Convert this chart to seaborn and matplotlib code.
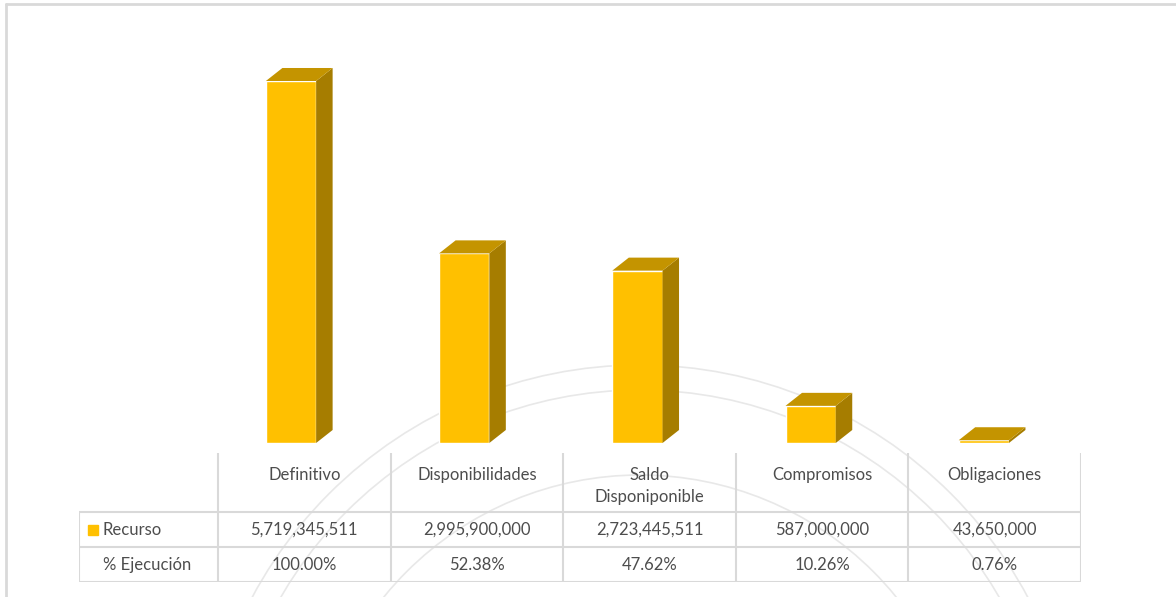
import numpy as np
import pandas as pd
import matplotlib
matplotlib.use('Agg')
import matplotlib.pyplot as plt
import seaborn as sns
from matplotlib.patches import Polygon, Circle

# datos
categorias = ['Definitivo', 'Disponibilidades', 'Saldo\nDisponiponible', 'Compromisos', 'Obligaciones']
recurso = [5719345511, 2995900000, 2723445511, 587000000, 43650000]
ejecucion = [100.00, 52.38, 47.62, 10.26, 0.76]
serie = 'Recurso'
fila_pct = '% Ejecución'

df = pd.DataFrame({'categoria': categorias, 'recurso': recurso})

sns.set_style('white')
plt.rcParams['font.family'] = ['Lato', 'DejaVu Sans']

W, H = 1176, 597
fig = plt.figure(figsize=(W / 100, H / 100), dpi=100)
fig.set_facecolor('white')

GRID = '#D9D9D9'
TXT = '#4D4D4D'
FRONT = '#FFC000'
TOP = '#C49400'
SIDE = '#A67D00'


def px_box(x0, y0, x1, y1):
    return [x0 / W, 1 - y1 / H, (x1 - x0) / W, (y1 - y0) / H]


# fondo: borde y marca de agua (solo los aros del sello)
bg = fig.add_axes([0, 0, 1, 1], zorder=0)
bg.set_xlim(0, W)
bg.set_ylim(H, 0)
bg.axis('off')
bg.plot([6, 6], [4, H], color=GRID, lw=2)
bg.plot([6, W], [4, 4], color=GRID, lw=2)
wm = '#E8E8E8'
for r in [330, 415, 440]:
    bg.add_patch(Circle((640, 805), r, fill=False, ec=wm, lw=1.2))

# barras
ax = fig.add_axes(px_box(79, 40, 1081, 443), zorder=2)
ax.patch.set_alpha(0)
sns.barplot(data=df, x='categoria', y='recurso', color=FRONT, width=0.29,
            saturation=1, ax=ax, zorder=3)
ax.set_xlim(-1.224, 4.561)
ymax = 403 / 6.3295e-8
ax.set_ylim(0, ymax)
ax.axis('off')

dx = 16.5 * (4.561 + 1.224) / 1002
dy = 13 * ymax / 403
for p in ax.patches:
    x0, w, h = p.get_x(), p.get_width(), p.get_height()
    side = Polygon([(x0 + w, 0), (x0 + w + dx, dy), (x0 + w + dx, h + dy), (x0 + w, h)],
                   closed=True, fc=SIDE, ec='none', zorder=3, clip_on=False)
    top = Polygon([(x0, h), (x0 + w, h), (x0 + w + dx, h + dy), (x0 + dx, h + dy)],
                  closed=True, fc=TOP, ec='none', zorder=4, clip_on=False)
    ax.add_patch(side)
    ax.add_patch(top)

# tabla de datos
tx = fig.add_axes(px_box(79, 453, 1081, 582), zorder=2)
tx.patch.set_alpha(0)
tx.set_xlim(-1.305, 4.5)
tx.set_ylim(129, 0)
tx.axis('off')

edges = np.arange(len(categorias) + 1) - 0.5
for e in edges:
    tx.plot([e, e], [0, 129], color=GRID, lw=1.5, solid_capstyle='butt')
tx.plot([-1.305, -1.305], [59, 129], color=GRID, lw=1.5, solid_capstyle='butt')
for yy in [59, 94, 129]:
    tx.plot([-1.305, 4.5], [yy, yy], color=GRID, lw=1.5, solid_capstyle='butt')

fs = 12
for i, c in enumerate(categorias):
    tx.text(i, 14, c, ha='center', va='top', fontsize=fs, color=TXT, linespacing=1.45)
    tx.text(i, 77, f'{recurso[i]:,.0f}', ha='center', va='center', fontsize=fs, color=TXT)
    tx.text(i, 112, f'{ejecucion[i]:.2f}%', ha='center', va='center', fontsize=fs, color=TXT)

tx.plot([-1.224], [77], marker='s', ms=7.5, color=FRONT, ls='none')
tx.text(-1.166, 77, serie, ha='left', va='center', fontsize=fs, color=TXT)
tx.text(-1.166, 112, fila_pct, ha='left', va='center', fontsize=fs, color=TXT)

fig.savefig('out.png', dpi=100, facecolor='white')
